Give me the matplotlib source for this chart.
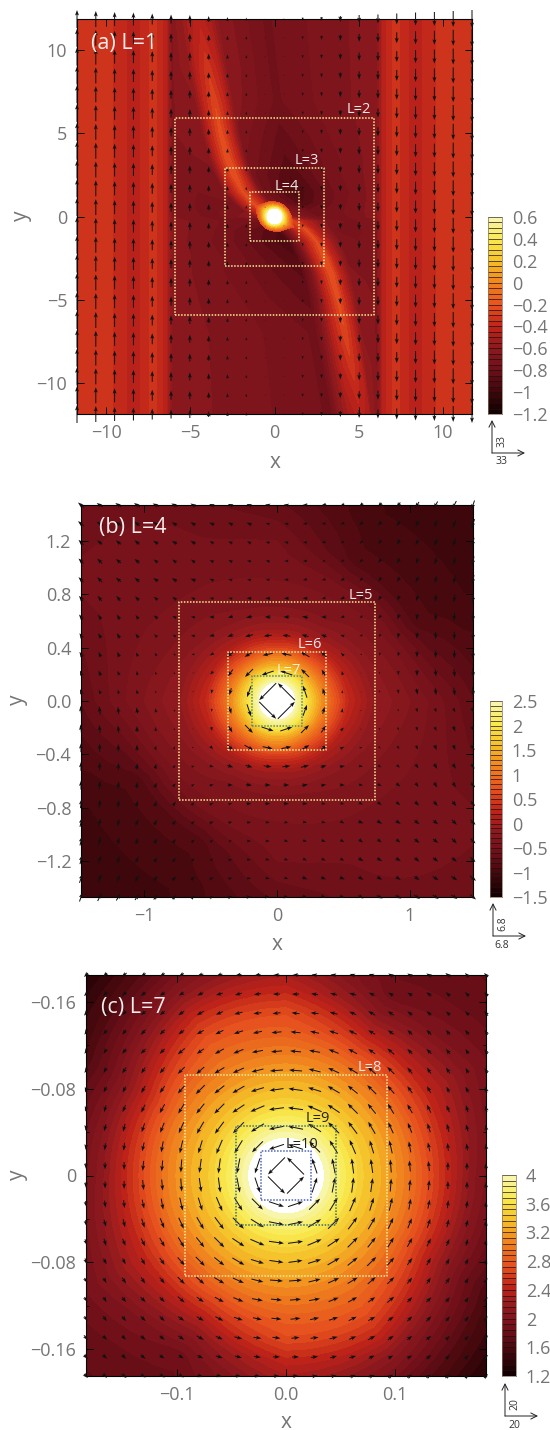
import numpy as np
import matplotlib
matplotlib.use("Agg")
import matplotlib.pyplot as plt
from matplotlib.colors import LinearSegmentedColormap, BoundaryNorm

plt.rcParams["font.family"] = ["Open Sans", "DejaVu Sans"]

W, H = 550, 1430
GRAY = "#757575"
PALE = "#f7ee9a"

# (a) field, read along the ridge: top half rows, lower half is the same turned by 180 deg
a_y = [11.8, 9, 7, 5, 3.5, 2.5, 1.5, 0.8, 0.3, 0]
a_ridge = [-4.5, -4.0, -3.6, -3.2, -2.8, -2.4, -1.9, -1.3, -0.6, 0]
a_outer_left = [-.33, -.33, -.43, -.33, -.42]
a_outer_right = [-.42, -.33, -.43, -.33, -.33]
a_z = [
    [-.66, -.60, -.58, -.48, -.42, -.48, -.60, -.76, -.68, -.62],
    [-.66, -.60, -.58, -.42, -.32, -.42, -.60, -.76, -.68, -.62],
    [-.66, -.62, -.60, -.40, -.26, -.40, -.62, -.76, -.68, -.62],
    [-.66, -.62, -.62, -.40, -.22, -.40, -.66, -.82, -.70, -.62],
    [-.66, -.66, -.64, -.40, -.20, -.40, -.70, -.86, -.72, -.62],
    [-.66, -.68, -.66, -.40, -.20, -.40, -.74, -.90, -.72, -.62],
    [-.66, -.70, -.68, -.42, -.24, -.42, -.74, -.95, -.74, -.62],
    [-.66, -.72, -.70, -.44, -.24, -.40, -.70, -.90, -.72, -.62],
    [-.66, -.72, -.65, -.42, -.28, -.35, -.60, -.78, -.70, -.62],
    [-.66, -.72, -.60, -.40, -.30, -.40, -.60, -.76, -.70, -.62],
]
# bright core of (a) on rings, angles 0..150 deg, the other half is the same
a_core_r = [0, .30, .42, .60, .80, 1.0, 1.3, 1.7]
a_core_theta = [0, 30, 60, 90, 120, 150]
a_core_z = [
    [2.0, 1.2, .62, .30, .00, -.25, -.55, -.70],
    [2.0, 1.2, .62, .20, -.10, -.45, -.85, -.95],
    [2.0, 1.2, .62, .20, -.15, -.50, -.95, -.95],
    [2.0, 1.2, .62, .20, -.15, -.40, -.85, -.85],
    [2.0, 1.2, .62, .25, -.02, -.30, -.70, -.80],
    [2.0, 1.2, .62, .35, .10, -.10, -.25, -.30],
]
# arrows of (a): one vertical speed per column, in pixels
a_vy = [18, 16, 14, 13, 11, 9, 8, 6, 4, 3, 1, -1, -3, -4, -6, -8, -9, -11, -13, -14, -16, -18]

# (b) field on rings, angles 0..150 deg, the other half is the same
b_r = [0, .10, .13, .16, .21, .26, .33, .40, .46, .53, .63, .72, .95, 1.2, 1.5, 2.1, 3.0]
b_theta = [0, 30, 60, 90, 120, 150]
b_z = [
    [4.0, 2.9, 2.52, 2.35, 2.0, 1.70, 1.30, .92, .65, .32, .10, -.10, -.26, -.45, -.72, -.90, -.90],
    [4.0, 2.9, 2.52, 2.35, 2.0, 1.60, 1.20, .80, .50, .20, -.03, -.18, -.42, -.85, -.98, -1.08, -1.08],
    [4.0, 2.9, 2.52, 2.35, 2.0, 1.55, 1.10, .65, .35, .02, -.18, -.32, -.45, -.85, -.98, -1.08, -1.08],
    [4.0, 2.9, 2.52, 2.35, 2.0, 1.50, 1.15, .55, .25, .00, -.20, -.33, -.42, -.50, -.70, -.90, -.90],
    [4.0, 2.9, 2.52, 2.35, 2.0, 1.55, 1.10, .65, .35, .05, -.15, -.28, -.38, -.46, -.50, -.52, -.52],
    [4.0, 2.9, 2.52, 2.35, 2.0, 1.65, 1.20, .80, .50, .18, -.03, -.18, -.36, -.42, -.47, -.52, -.52],
]
# arrows of (b) in pixels, rows from the top down to y just above 0
b_u = [
    [-6, -6, -6, -6, -6, -6, -5, -5, -5, -5, -5, -5, -5, -5, -4, -4, -4, -4, -4, -4, -4, -3],
    [-6, -6, -6, -5, -5, -5, -5, -5, -5, -5, -4, -4, -4, -4, -4, -4, -4, -4, -3, -3, -3, -3],
    [-5, -5, -5, -5, -5, -5, -5, -4, -4, -4, -4, -4, -4, -4, -3, -3, -3, -3, -3, -3, -3, -2],
    [-5, -5, -5, -5, -4, -4, -4, -4, -4, -4, -4, -4, -4, -3, -3, -3, -3, -3, -2, -2, -2, -2],
    [-5, -5, -5, -5, -5, -5, -5, -4, -4, -4, -4, -4, -4, -4, -4, -3, -3, -3, -3, -2, -2, -2],
    [-4, -4, -4, -4, -4, -4, -4, -4, -4, -5, -5, -5, -5, -4, -4, -3, -3, -2, -2, -1, -1, -1],
    [-4, -3, -3, -3, -4, -4, -4, -5, -5, -6, -6, -6, -6, -5, -4, -3, -3, -2, -1, -1, -1, 0],
    [-3, -3, -3, -3, -3, -3, -4, -5, -6, -8, -8, -8, -7, -6, -4, -3, -2, -1, -1, 0, 0, 0],
    [-3, -2, -2, -2, -2, -2, -3, -4, -7, -9, -10, -10, -9, -6, -3, -2, -1, -1, 0, 0, 0, 0],
    [-2, -2, -2, -1, -1, -1, -1, -3, -5, -8, -12, -12, -8, -4, -1, 0, 0, 0, 0, 1, 1, 1],
    [-2, -2, -1, -1, -1, -1, -1, -1, -2, -4, -17, -17, -4, -2, 0, 0, 1, 1, 1, 1, 1, 1],
]
b_v = [
    [5, 4, 4, 4, 3, 3, 3, 2, 2, 2, 1, 1, 0, -1, -2, -3, -4, -5, -6, -7, -8, -9],
    [5, 4, 4, 4, 3, 3, 3, 2, 2, 2, 1, 1, 0, -1, -2, -3, -4, -5, -6, -7, -8, -9],
    [5, 4, 4, 4, 3, 3, 3, 2, 2, 2, 1, 1, 0, -1, -2, -3, -4, -5, -6, -7, -8, -9],
    [5, 5, 4, 4, 3, 3, 3, 2, 2, 1, 1, 0, 0, -1, -2, -3, -4, -5, -6, -7, -8, -9],
    [5, 5, 4, 4, 3, 3, 2, 2, 1, 1, 0, 0, -1, -1, -2, -3, -4, -5, -6, -7, -8, -9],
    [5, 5, 5, 4, 3, 3, 2, 1, 1, 0, 0, 0, 0, -1, -2, -3, -4, -5, -6, -7, -8, -9],
    [5, 5, 5, 4, 3, 2, 1, 0, -1, -1, 0, 0, 1, 0, -1, -2, -3, -5, -6, -7, -8, -9],
    [5, 5, 5, 4, 3, 2, 1, -1, -2, -2, -1, 1, 2, 2, 1, -1, -3, -5, -6, -7, -8, -9],
    [5, 5, 5, 4, 3, 2, 0, -2, -5, -5, -2, 2, 5, 6, 3, 0, -3, -4, -6, -7, -8, -9],
    [5, 5, 4, 4, 3, 2, -1, -3, -7, -8, -4, 4, 8, 7, 4, 1, -2, -4, -6, -7, -8, -9],
    [5, 4, 4, 4, 2, 0, -1, -4, -7, -11, -17, 17, 12, 7, 3, 1, -2, -4, -6, -7, -8, -9],
]

# (c) field on rings
c_r = [0, .025, .033, .04, .05, .07, .09, .11, .13, .15, .17, .19, .22, .26, .32]
c_theta = [0, 30, 60, 90, 120, 150]
c_z = [
    [4.6, 4.3, 4.02, 3.92, 3.75, 3.45, 3.25, 3.02, 2.72, 2.42, 2.12, 1.92, 1.78, 1.72, 1.72],
    [4.6, 4.3, 4.02, 3.92, 3.75, 3.45, 3.25, 3.02, 2.72, 2.45, 2.25, 2.05, 1.88, 1.75, 1.75],
    [4.6, 4.3, 4.02, 3.92, 3.75, 3.45, 3.25, 3.02, 2.72, 2.40, 2.10, 1.90, 1.80, 1.75, 1.75],
    [4.6, 4.3, 4.02, 3.92, 3.75, 3.45, 3.25, 3.05, 2.85, 2.70, 2.45, 2.25, 2.05, 1.90, 1.90],
    [4.6, 4.3, 4.02, 3.92, 3.75, 3.45, 3.25, 3.05, 2.88, 2.70, 2.45, 2.15, 1.80, 1.40, 1.40],
    [4.6, 4.3, 4.02, 3.92, 3.75, 3.45, 3.25, 3.02, 2.72, 2.40, 2.10, 1.85, 1.55, 1.30, 1.30],
]
# arrows of (c) in pixels: top right quarter, x growing, rows from the top down
c_u = [
    [-6, -6, -6, -6, -6, -5, -5, -5, -5, -4, -4],
    [-7, -7, -7, -7, -6, -5, -5, -5, -4, -4, -4],
    [-8, -8, -8, -7, -7, -6, -5, -5, -4, -4, -4],
    [-10, -9, -9, -8, -7, -6, -5, -5, -4, -4, -3],
    [-11, -11, -10, -9, -7, -7, -5, -5, -4, -3, -3],
    [-13, -12, -11, -10, -8, -7, -5, -4, -4, -3, -3],
    [-14, -13, -12, -10, -9, -7, -5, -4, -3, -3, -2],
    [-15, -14, -12, -10, -8, -6, -5, -4, -3, -2, -2],
    [-15, -13, -11, -9, -7, -5, -4, -3, -2, -2, -1],
    [-15, -11, -8, -6, -4, -3, -2, -2, -1, -1, -1],
    [-17, -5, -3, -2, -2, -1, -1, -1, 0, 0, 0],
]
c_v = [
    [0, 1, 1, 2, 2, 3, 3, 3, 4, 4, 4],
    [0, 1, 2, 2, 3, 3, 3, 4, 4, 4, 4],
    [1, 1, 2, 3, 4, 4, 4, 4, 4, 4, 5],
    [1, 2, 3, 4, 4, 4, 5, 5, 5, 5, 5],
    [1, 2, 4, 5, 5, 6, 5, 5, 5, 5, 5],
    [1, 3, 5, 6, 7, 7, 6, 6, 6, 5, 5],
    [2, 4, 7, 8, 9, 8, 7, 7, 6, 6, 6],
    [2, 6, 8, 10, 10, 10, 9, 8, 7, 7, 6],
    [3, 8, 11, 12, 12, 11, 10, 9, 8, 7, 6],
    [5, 11, 13, 14, 13, 13, 11, 9, 8, 7, 6],
    [17, 15, 15, 15, 14, 13, 11, 10, 8, 7, 6],
]

cmap = LinearSegmentedColormap.from_list("idl", [
    (0.00, (20 / 255, 0, 0)),
    (0.22, (110 / 255, 15 / 255, 25 / 255)),
    (0.33, (140 / 255, 25 / 255, 30 / 255)),
    (0.44, (190 / 255, 35 / 255, 25 / 255)),
    (0.55, (230 / 255, 80 / 255, 30 / 255)),
    (0.67, (240 / 255, 130 / 255, 30 / 255)),
    (0.78, (245 / 255, 190 / 255, 40 / 255)),
    (0.89, (248 / 255, 232 / 255, 75 / 255)),
    (1.00, (247 / 255, 246 / 255, 170 / 255)),
])
cmap.set_over("white")
cmap.set_under((20 / 255, 0, 0))


def pix_axes(fig, x0, x1, top, bottom):
    return fig.add_axes([x0 / W, 1 - bottom / H, (x1 - x0) / W, (bottom - top) / H])


def a_mesh():
    # every row keeps its own x positions so the ridge stays sharp
    ys = a_y + [-v for v in a_y[-2::-1]]
    ridge = a_ridge + [-v for v in a_ridge[-2::-1]]
    e = 6.1
    X = []
    for r in ridge:
        ra, rd = r - 1.1, r + 1.1
        X.append([-11.9, -10, -8.3, -7.2, -6.5, -e, (ra - e) / 2, ra, r - 0.6, r, r + 0.6, rd,
                  rd + 0.3 * (e - rd), rd + 0.65 * (e - rd), e, 6.5, 7.2, 8.3, 10, 11.9])
    X = np.array(X)
    Y = np.repeat(np.array(ys)[:, None], X.shape[1], axis=1)
    Z = np.array([a_outer_left + row + a_outer_right for row in a_z])
    Z = np.vstack([Z, Z[-2::-1, ::-1]])
    return X, Y, Z


def polar_mesh(r, theta, z):
    # rings stay round: the table is walked around each ring in 5 deg steps
    z = np.array(z)
    t = np.array(list(theta) + [v + 180 for v in theta], dtype=float)
    zz = np.vstack([z, z])
    fine = np.arange(0, 361, 5.0)
    Z = np.array([np.interp(fine, t, zz[:, j], period=360) for j in range(len(r))]).T
    R, T = np.meshgrid(r, np.radians(fine))
    return R * np.cos(T), R * np.sin(T), Z


def draw_panel(ax, X, Y, Z, levels, half_x, half_y):
    norm = BoundaryNorm(levels, cmap.N)
    ax.contourf(X, Y, Z, levels=levels, cmap=cmap, norm=norm, extend="both")
    ax.set_xlim(-half_x, half_x)
    ax.set_ylim(-half_y, half_y)
    ax.tick_params(which="major", direction="in", top=True, right=True, length=5, width=0.7,
                   labelcolor=GRAY, labelsize=13, pad=7)
    ax.tick_params(which="minor", direction="in", top=True, right=True, length=2.5, width=0.6)
    for s in ax.spines.values():
        s.set_linewidth(0.8)


def draw_arrows(ax, half_x, half_y, U, V):
    xs = np.linspace(-half_x, half_x, 22)
    ys = np.linspace(half_y, -half_y, 22)
    XX, YY = np.meshgrid(xs, ys)
    ax.quiver(XX, YY, U, V, angles="uv", scale_units="dots", scale=1, units="dots", pivot="mid",
              width=1.0, headwidth=4, headlength=5.5, headaxislength=4.5, minlength=0.6,
              color="#111111", clip_on=False, zorder=5)


def draw_boxes(ax, boxes):
    for half, color, name, tx, ty, tcolor in boxes:
        ax.plot([-half, half, half, -half, -half], [-half, -half, half, half, -half],
                color=color, lw=1.1, ls=(0, (1, 1)), zorder=6)
        ax.text(tx, ty, name, color=tcolor, fontsize=10.5, ha="center", va="center", zorder=7)


def draw_bar(fig, x0, x1, top, bottom, levels, ticks, labels):
    cax = pix_axes(fig, x0, x1, top, bottom)
    norm = BoundaryNorm(levels, cmap.N)
    cax.pcolormesh([0, 1], levels, np.array(levels[:-1])[:, None], cmap=cmap, norm=norm)
    cax.hlines(levels, 0, 1, color="#201010", lw=0.5)
    cax.set_xticks([])
    cax.yaxis.tick_right()
    cax.set_yticks(ticks)
    cax.set_yticklabels(labels)
    cax.tick_params(length=0, labelcolor=GRAY, labelsize=13, pad=7)
    cax.set_ylim(levels[0], levels[-1])
    for s in cax.spines.values():
        s.set_linewidth(0.5)
        s.set_color("#807060")


def scale_key(ax, x, y, size, label):
    # x, y are pixels from the top left of the figure
    py = H - y
    for dx, dy in [(0, size), (size, 0)]:
        ax.annotate("", xy=(x + dx, py + dy), xytext=(x, py), xycoords="figure pixels",
                    textcoords="figure pixels",
                    arrowprops=dict(arrowstyle="->", lw=0.7, color="#222222", shrinkA=0, shrinkB=0,
                                    mutation_scale=11), annotation_clip=False)
    ax.figure.text((x + 10) / W, (py + 12) / H, label, rotation=90, fontsize=7.5, color="#333333",
                   ha="center", va="center")
    ax.figure.text((x + 9) / W, (py - 9) / H, label, fontsize=7.5, color="#333333", ha="center", va="center")


fig = plt.figure(figsize=(W / 100, H / 100), dpi=100)

# panel (a)
ax = pix_axes(fig, 77, 472, 19, 414)
a_levels = list(np.arange(-1.2, 0.601, 0.05))
draw_panel(ax, *a_mesh(), a_levels, 11.75, 11.85)
# the core goes on top, only where it is brighter than the ridge
core_levels = [v for v in a_levels if v > -0.27]
ax.contourf(*polar_mesh(a_core_r, a_core_theta, a_core_z), levels=core_levels, cmap=cmap,
            norm=BoundaryNorm(a_levels, cmap.N), extend="max")
ax.set_xticks([-10, -5, 0, 5, 10], ["\u221210", "\u22125", "0", "5", "10"])
ax.set_yticks([-10, -5, 0, 5, 10], ["\u221210", "\u22125", "0", "5", "10"])
draw_arrows(ax, 11.75, 11.85, np.zeros((22, 22)), np.tile(a_vy, (22, 1)))
draw_boxes(ax, [(5.9, PALE, "L=2", 5.0, 6.4, "#f4e8e8"), (2.94, PALE, "L=3", 1.9, 3.35, "#f4e8e8"),
                (1.47, PALE, "L=4", 0.72, 1.8, "#f4e8e8")])
ax.text(-10.9, 10.4, "(a) L=1", color="#f8ecec", fontsize=15.5, va="center", zorder=7)
fig.text(275 / W, 1 - 462 / H, "x", color=GRAY, fontsize=15, ha="center", va="center")
fig.text(21 / W, 1 - 216 / H, "y", color=GRAY, fontsize=15, rotation=90, ha="center", va="center")
draw_bar(fig, 488, 502, 217, 414, a_levels,
         [-1.2, -1, -.8, -.6, -.4, -.2, 0, .2, .4, .6],
         ["\u22121.2", "\u22121", "\u22120.8", "\u22120.6", "\u22120.4", "\u22120.2", "0", "0.2", "0.4", "0.6"])
scale_key(ax, 492, 453, 33, "33")

# panel (b)
ax = pix_axes(fig, 81, 473, 505, 897)
b_levels = list(np.arange(-1.5, 2.501, 0.1))
draw_panel(ax, *polar_mesh(b_r, b_theta, b_z), b_levels, 1.478, 1.47)
ax.set_xticks([-1, 0, 1], ["\u22121", "0", "1"])
ax.set_yticks([-1.2, -.8, -.4, 0, .4, .8, 1.2],
              ["\u22121.2", "\u22120.8", "\u22120.4", "0.0", "0.4", "0.8", "1.2"])
bu, bv = np.array(b_u), np.array(b_v)
draw_arrows(ax, 1.478, 1.47, np.vstack([bu, -bu[::-1, ::-1]]), np.vstack([bv, -bv[::-1, ::-1]]))
draw_boxes(ax, [(0.74, PALE, "L=5", 0.63, 0.79, "#f4e8e8"), (0.37, PALE, "L=6", 0.25, 0.42, "#f4e8e8"),
                (0.187, "#4f8a86", "L=7", 0.09, 0.23, "#fbf3d0")])
ax.text(-1.34, 1.3, "(b) L=4", color="#f8ecec", fontsize=15.5, va="center", zorder=7)
fig.text(277 / W, 1 - 944 / H, "x", color=GRAY, fontsize=15, ha="center", va="center")
fig.text(17 / W, 1 - 700 / H, "y", color=GRAY, fontsize=15, rotation=90, ha="center", va="center")
draw_bar(fig, 490, 502, 701, 897, b_levels, [-1.5, -1, -.5, 0, .5, 1, 1.5, 2, 2.5],
         ["\u22121.5", "\u22121", "\u22120.5", "0", "0.5", "1", "1.5", "2", "2.5"])
scale_key(ax, 493, 936, 33, "6.8")

# panel (c)
ax = pix_axes(fig, 86, 486, 975, 1376)
c_levels = list(np.arange(1.2, 4.001, 0.08))
draw_panel(ax, *polar_mesh(c_r, c_theta, c_z), c_levels, 0.184, 0.185)
ax.set_xticks([-.1, 0, .1], ["\u22120.1", "0.0", "0.1"])
ax.set_yticks([-.16, -.08, 0, .08, .16], ["\u22120.16", "\u22120.08", "0", "\u22120.08", "\u22120.16"])
ax.set_yticks([-.12, -.04, .04, .12], minor=True)
cu, cv = np.array(c_u), np.array(c_v)
cu_top = np.hstack([cu[:, ::-1], cu])
cv_top = np.hstack([-cv[:, ::-1], cv])
draw_arrows(ax, 0.184, 0.185, np.vstack([cu_top, -cu_top[::-1, ::-1]]), np.vstack([cv_top, -cv_top[::-1, ::-1]]))
draw_boxes(ax, [(0.0925, PALE, "L=8", 0.077, 0.0995, "#f4e8e8"), (0.046, "#3e6f6e", "L=9", 0.029, 0.053, "#222222"),
                (0.023, "#4a63b8", "L=10", 0.0145, 0.029, "#222222")])
ax.text(-0.17, 0.155, "(c) L=7", color="#f8ecec", fontsize=15.5, va="center", zorder=7)
fig.text(286 / W, 1 - 1422 / H, "x", color=GRAY, fontsize=15, ha="center", va="center")
fig.text(17 / W, 1 - 1175 / H, "y", color=GRAY, fontsize=15, rotation=90, ha="center", va="center")
draw_bar(fig, 502, 516, 1175, 1376, c_levels, [1.2, 1.6, 2, 2.4, 2.8, 3.2, 3.6, 4],
         ["1.2", "1.6", "2", "2.4", "2.8", "3.2", "3.6", "4"])
scale_key(ax, 505, 1416, 33, "20")

fig.savefig("out.png", dpi=100)
